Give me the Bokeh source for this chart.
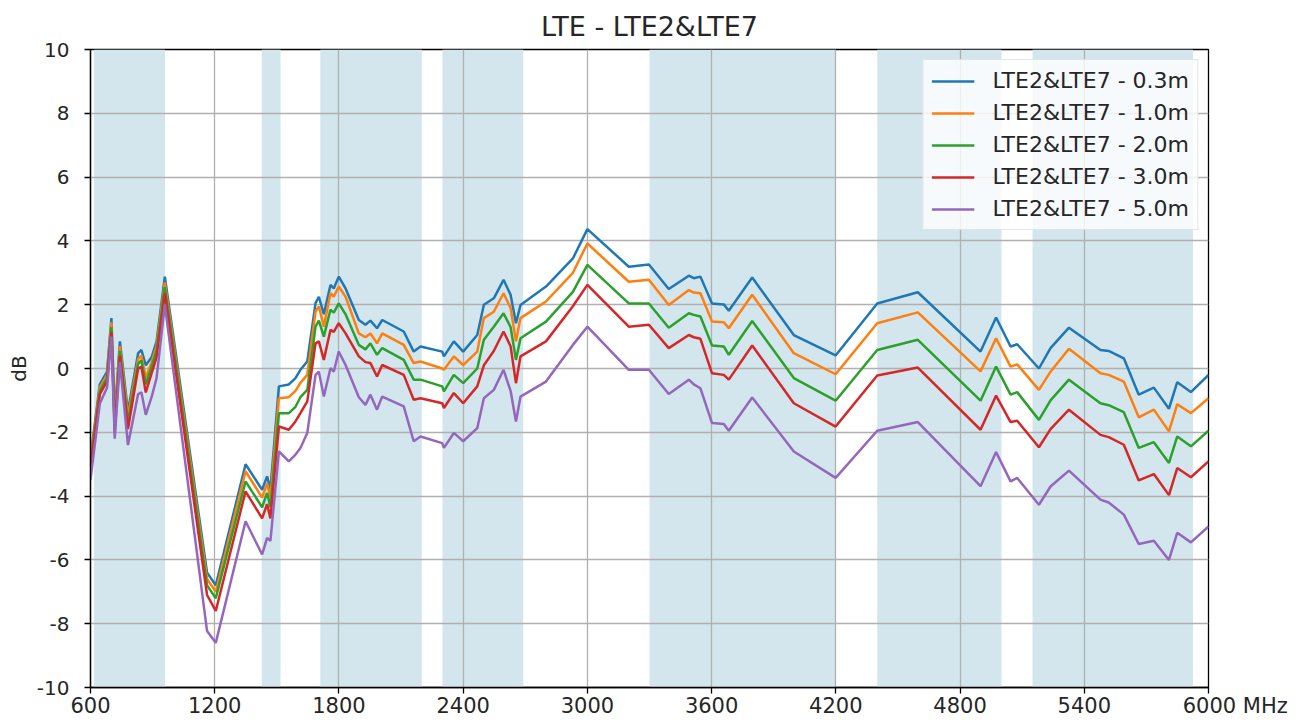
from bokeh.plotting import figure
from bokeh.models import Range1d, Legend, LegendItem, ColumnDataSource
from bokeh.embed import file_html
from bokeh.resources import INLINE

title = "LTE - LTE2&LTE7"

freq = [600, 645, 680, 701, 717, 742, 781, 830, 846, 867, 895, 919, 959, 1163, 1205,
        1349, 1429, 1453, 1469, 1510, 1558, 1590, 1614, 1647, 1687, 1703, 1727, 1759,
        1775, 1799, 1832, 1896, 1928, 1952, 1984, 2009, 2113, 2161, 2194, 2299, 2307,
        2355, 2400, 2468, 2500, 2548, 2595, 2629, 2655, 2677, 2800, 2930, 3000, 3200,
        3297, 3393, 3490, 3514, 3546, 3602, 3659, 3683, 3796, 3997, 4199, 4400, 4596,
        4899, 4974, 5044, 5076, 5181, 5237, 5326, 5478, 5518, 5591, 5663, 5736, 5809,
        5849, 5915, 6000]

s_03 = [-2.8, -0.5, -0.1, 1.58, -1.5, 0.85, -1.35, 0.48, 0.58, 0.1, 0.35, 0.85, 2.88, -6.4, -6.8,
        -3.0, -3.8, -3.38, -3.8, -0.56, -0.5, -0.3, -0.04, 0.22, 2.05, 2.25, 1.7, 2.62,
        2.51, 2.88, 2.51, 1.52, 1.37, 1.5, 1.26, 1.52, 1.16, 0.53, 0.69, 0.53, 0.38,
        0.85, 0.53, 1.05, 2.0, 2.2, 2.78, 2.31, 1.42, 1.99, 2.57, 3.45, 4.37, 3.19,
        3.26, 2.49, 2.91, 2.83, 2.88, 2.04, 2.01, 1.81, 2.85, 1.05, 0.41, 2.04, 2.39,
        0.53, 1.6, 0.69, 0.76, 0.0, 0.64, 1.28, 0.58, 0.55, 0.32, -0.82, -0.6, -1.26,
        -0.43, -0.74, -0.2]

s_10 = [-2.9, -0.6, -0.2, 1.45, -1.7, 0.7, -1.5, 0.3, 0.4, -0.3, 0.2, 0.7, 2.7, -6.6, -7.0,
        -3.22, -4.05, -3.6, -4.05, -0.93, -0.9, -0.7, -0.45, -0.2, 1.78, 1.95, 1.31, 2.36,
        2.25, 2.57, 2.25, 1.1, 0.98, 1.1, 0.79, 1.1, 0.74, 0.17, 0.22, 0.0, -0.04,
        0.38, 0.11, 0.53, 1.58, 1.78, 2.36, 1.9, 0.85, 1.58, 2.1, 3.0, 3.92, 2.72,
        2.78, 1.99, 2.46, 2.38, 2.36, 1.47, 1.45, 1.26, 2.31, 0.48, -0.18, 1.42, 1.76,
        -0.09, 0.95, 0.06, 0.13, -0.67, -0.1, 0.62, -0.15, -0.2, -0.41, -1.53, -1.29, -1.97,
        -1.12, -1.4, -0.93]

s_20 = [-3.0, -0.7, -0.3, 1.3, -1.85, 0.55, -1.7, 0.15, 0.25, -0.5, 0.05, 0.55, 2.55, -6.8, -7.2,
        -3.54, -4.35, -3.9, -4.35, -1.4, -1.4, -1.2, -0.9, -0.67, 1.31, 1.5, 1.0, 1.84,
        1.75, 2.04, 1.7, 0.74, 0.6, 0.79, 0.43, 0.64, 0.27, -0.35, -0.35, -0.56, -0.72,
        -0.2, -0.46, 0.0, 0.9, 1.31, 1.73, 1.3, 0.27, 0.95, 1.47, 2.4, 3.25, 2.04,
        2.04, 1.28, 1.73, 1.68, 1.63, 0.72, 0.69, 0.43, 1.49, -0.3, -1.01, 0.58, 0.9,
        -1.01, 0.06, -0.82, -0.74, -1.61, -1.0, -0.35, -1.09, -1.15, -1.37, -2.49, -2.31, -2.96,
        -2.13, -2.44, -1.95]

s_30 = [-3.1, -0.8, -0.4, 1.15, -2.0, 0.4, -1.9, 0.0, 0.05, -0.75, -0.15, 0.35, 2.35, -7.1, -7.6,
        -3.85, -4.7, -4.25, -4.7, -1.82, -1.92, -1.66, -1.4, -1.03, 0.79, 0.85, 0.27, 1.21,
        1.15, 1.42, 1.1, 0.38, 0.2, 0.17, -0.25, 0.11, -0.2, -0.98, -0.93, -1.09, -1.24,
        -0.77, -1.09, -0.56, 0.1, 0.55, 1.16, 0.7, -0.46, 0.38, 0.85, 1.95, 2.62, 1.31,
        1.37, 0.64, 1.05, 0.98, 0.93, -0.15, -0.2, -0.35, 0.72, -1.09, -1.82, -0.22, 0.03,
        -1.92, -0.85, -1.68, -1.64, -2.47, -1.9, -1.29, -2.08, -2.15, -2.39, -3.51, -3.31, -3.97,
        -3.12, -3.41, -2.91]

s_50 = [-3.5, -1.1, -0.6, 1.0, -2.2, 0.2, -2.4, -0.8, -0.75, -1.45, -0.9, -0.3, 2.0, -8.23, -8.6,
        -4.79, -5.83, -5.31, -5.4, -2.6, -2.91, -2.7, -2.49, -2.02, -0.2, -0.1, -0.88, 0.01,
        -0.1, 0.53, 0.11, -0.9, -1.14, -0.82, -1.29, -0.88, -1.19, -2.28, -2.13, -2.34, -2.49,
        -2.02, -2.28, -1.87, -0.93, -0.67, -0.04, -0.7, -1.66, -0.88, -0.41, 0.74, 1.31, -0.04,
        -0.04, -0.8, -0.35, -0.5, -0.62, -1.71, -1.74, -1.95, -0.91, -2.6, -3.43, -1.95, -1.68,
        -3.69, -2.62, -3.54, -3.43, -4.27, -3.7, -3.2, -4.11, -4.2, -4.58, -5.5, -5.4, -6.0,
        -5.15, -5.45, -4.95]

series_names = ["LTE2&LTE7 - 0.3m", "LTE2&LTE7 - 1.0m", "LTE2&LTE7 - 2.0m",
                "LTE2&LTE7 - 3.0m", "LTE2&LTE7 - 5.0m"]
series_values = [s_03, s_10, s_20, s_30, s_50]
colors = ["#1f77b4", "#ff7f0e", "#2ca02c", "#d62728", "#9467bd"]

band_start = [617, 1427, 1710, 2300, 3300, 4400, 5150]
band_end = [960, 1518, 2200, 2690, 4200, 5000, 5925]

x_ticks = [600, 1200, 1800, 2400, 3000, 3600, 4200, 4800, 5400, 6000]
y_ticks = [-10, -8, -6, -4, -2, 0, 2, 4, 6, 8, 10]
x_unit = "MHz"

FONT = "DejaVu Sans"
TXT = "#262626"

p = figure(width=1300, height=720, output_backend="svg", toolbar_location=None,
           x_range=Range1d(600, 6000), y_range=Range1d(-10, 10),
           min_border_left=90, min_border_right=92, min_border_top=48, min_border_bottom=33)

p.title.text = title
p.title.align = "center"
p.title.text_font = FONT
p.title.text_font_size = "27px"
p.title.text_font_style = "normal"
p.title.text_color = TXT
p.title.standoff = 16

# shaded bands
p.quad(left=band_start, right=band_end, bottom=-10, top=10,
       fill_color="#d3e6ee", fill_alpha=1.0, line_color=None, level="image")

items = []
for name, vals, col in zip(series_names, series_values, colors):
    src = ColumnDataSource(dict(x=freq, y=vals))
    r = p.line("x", "y", source=src, line_color=col, line_width=2.5)
    items.append(LegendItem(label=name, renderers=[r]))

legend = Legend(items=items, location="top_right")
legend.label_text_font = FONT
legend.label_text_font_size = "22px"
legend.label_text_color = TXT
legend.glyph_width = 43
legend.glyph_height = 22
legend.label_height = 22
legend.spacing = 7
legend.padding = 8
legend.margin = 10
legend.label_standoff = 18
legend.background_fill_color = "white"
legend.background_fill_alpha = 0.8
legend.border_line_color = "#cccccc"
legend.border_line_width = 1
p.add_layout(legend)

fig_space = "\u2007" * 4
p.xaxis.ticker = x_ticks
p.xaxis.major_label_overrides = {x_ticks[-1]: fig_space + str(x_ticks[-1]) + " " + x_unit}
p.yaxis.ticker = y_ticks
p.yaxis.major_label_overrides = {v: str(v) for v in y_ticks}
p.xgrid.ticker = x_ticks
p.ygrid.ticker = y_ticks
p.grid.grid_line_color = "#b0b0b0"
p.grid.grid_line_width = 1.3
p.grid.grid_line_alpha = 1.0

for ax in (p.xaxis[0], p.yaxis[0]):
    ax.axis_line_color = "black"
    ax.axis_line_width = 1.3
    ax.major_tick_line_color = "black"
    ax.major_tick_line_width = 1.3
    ax.major_tick_out = 6
    ax.major_tick_in = 0
    ax.minor_tick_line_color = None
    ax.major_label_text_font = FONT
    ax.major_label_text_color = TXT
p.xaxis.major_label_text_font_size = "21px"
p.yaxis.major_label_text_font_size = "20px"
p.xaxis.major_label_standoff = 0
p.yaxis.major_label_standoff = 15

p.yaxis.axis_label = "dB"
p.yaxis.axis_label_text_font = FONT
p.yaxis.axis_label_text_font_size = "20px"
p.yaxis.axis_label_text_font_style = "normal"
p.yaxis.axis_label_text_color = TXT
p.yaxis.axis_label_standoff = 3

p.outline_line_color = "black"
p.outline_line_width = 1.3
p.outline_line_alpha = 1.0
p.background_fill_color = "white"
p.border_fill_color = "white"

open("out.html", "w").write(file_html(p, INLINE))
